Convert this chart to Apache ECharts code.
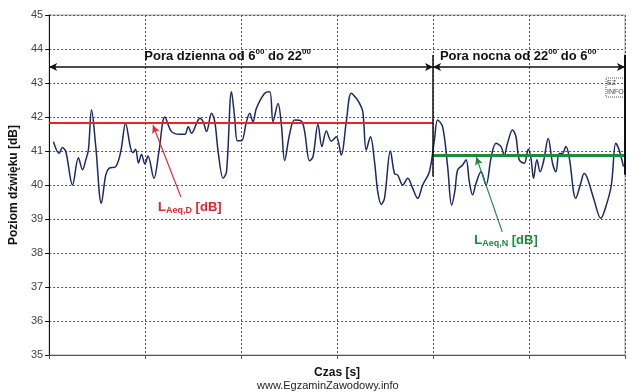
<!DOCTYPE html>
<html><head><meta charset="utf-8">
<script src="https://cdn.jsdelivr.net/npm/echarts@6/dist/echarts.min.js"></script>
<style>html,body{margin:0;padding:0;background:#fff}#c{width:637px;height:392px}</style>
</head><body><div id="c"></div>
<script>
const timeS = [4.5,10.4,13.8,17.4,24.4,30.5,34.8,38.2,40.9,44.2,48.6,54.4,59.0,62.4,69.4,74.6,79.6,84.8,87.4,90.0,93.1,96.2,99.8,103.0,109.2,114.4,120.6,127.6,136.2,141.4,144.9,148.4,153.6,157.0,160.5,164.0,169.2,172.6,176.1,181.3,184.8,190.0,193.4,196.2,200.4,205.6,209.0,212.4,216.0,224.6,229.8,233.3,238.5,242.0,245.4,250.6,255.8,262.8,266.2,271.4,274.9,280.1,284.2,288.8,294.0,299.2,304.4,309.6,314.8,320.0,323.4,326.8,330.4,334.8,339.0,342.4,346.0,349.4,355.6,359.8,363.2,368.4,373.6,378.8,384.0,389.2,396.2,401.4,404.8,410.0,415.2,419.4,422.9,425.6,430.8,434.4,437.8,441.2,444.8,450.0,455.2,460.4,465.6,470.8,474.2,477.6,482.8,486.4,489.8,495.0,499.2,502.0,504.7,508.2,511.6,515.1,520.0,524.5,528.0,531.4,534.8,538.4,541.8,548.7,553.9,557.4,560.8,567.8,574.8,580.0,585.8,590.4,593.9,598.4];
const levelDb = [41.27,40.93,41.1,40.98,40.0,40.8,40.45,40.74,41.03,42.21,41.13,39.46,40.3,40.49,40.54,40.98,41.81,41.1,40.95,41.05,40.65,40.9,40.62,40.85,40.2,40.98,42.0,41.57,41.49,41.49,41.71,41.52,41.81,41.96,41.86,41.57,42.11,41.86,40.98,40.2,40.39,42.74,41.96,41.3,41.3,41.86,42.11,41.86,42.26,42.7,42.74,41.86,42.4,41.76,40.72,41.5,41.91,41.88,41.57,40.71,40.83,41.79,41.13,41.59,41.29,41.42,40.88,41.86,42.7,42.55,42.4,42.16,41.03,41.42,40.69,39.8,39.43,39.61,41.0,40.34,40.29,40.0,40.2,39.9,39.61,40.0,40.39,41.32,41.91,41.71,40.54,39.41,39.85,40.44,40.59,40.74,40.1,39.71,40.05,40.39,40.0,40.79,41.23,41.13,40.88,41.23,41.62,41.42,40.74,40.64,41.05,40.79,40.2,40.74,40.39,40.69,41.37,40.64,40.39,40.93,40.93,41.13,40.83,39.61,40.05,40.34,40.2,39.56,39.02,39.36,40.0,41.23,41.03,40.54];
const periodBounds = [0, 400, 600];
const dayLeq = 41.83;
const nightLeq = 40.88;
const yTicks = [35, 45, 1];
const xTicks = [0, 600, 100];

const series = timeS.map((t, i) => [t, levelDb[i]]);
const F = 'Liberation Sans, Arial, sans-serif';
const chart = echarts.init(document.getElementById('c'), null, {renderer: 'canvas'});
chart.setOption({
  animation: false,
  backgroundColor: '#fff',
  grid: {left: 49, right: 12, top: 15, bottom: 37, show: true, borderColor: '#a0a0a0', borderWidth: 1},
  xAxis: {
    type: 'value', min: xTicks[0], max: xTicks[1], interval: xTicks[2],
    name: 'Czas [s]', nameLocation: 'middle', nameGap: 12,
    nameTextStyle: {fontFamily: F, fontSize: 12, fontWeight: 'bold', color: '#111'},
    axisLine: {lineStyle: {color: '#555', width: 1}},
    axisTick: {show: true, length: 4, lineStyle: {color: '#555'}},
    axisLabel: {show: false},
    splitLine: {show: true, lineStyle: {type: [2, 2], color: '#555', width: 1}}
  },
  yAxis: {
    type: 'value', min: yTicks[0], max: yTicks[1], interval: yTicks[2],
    name: 'Poziom dźwięku [dB]', nameLocation: 'middle', nameGap: 29,
    nameTextStyle: {fontFamily: F, fontSize: 12, fontWeight: 'bold', color: '#111'},
    axisLine: {show: true, lineStyle: {color: '#111', width: 1}},
    axisTick: {show: true, length: 4, lineStyle: {color: '#111'}},
    axisLabel: {fontFamily: F, fontSize: 11, color: '#444', margin: 6},
    splitLine: {show: true, lineStyle: {type: [2, 2], color: '#555', width: 1}}
  },
  series: [
    {
      type: 'line', data: series, smooth: 0.35, symbol: 'none',
      lineStyle: {color: '#1c2868', width: 1.5}, z: 3
    },
    {
      type: 'line', data: [], silent: true,
      markLine: {
        silent: true, animation: false, label: {show: false},
        data: [
          [{coord: [periodBounds[0], dayLeq], symbol: 'none'}, {coord: [periodBounds[1], dayLeq], symbol: 'none', lineStyle: {color: '#e8232a', width: 2, type: 'solid'}}],
          [{coord: [periodBounds[1], nightLeq], symbol: 'none'}, {coord: [periodBounds[2], nightLeq], symbol: 'none', lineStyle: {color: '#1d8a3e', width: 3, type: 'solid'}}],
          [{coord: [periodBounds[1], 43.82], symbol: 'none'}, {coord: [periodBounds[1], 40.25], symbol: 'none', lineStyle: {color: '#111', width: 1.5, type: 'solid'}}],
          [{coord: [periodBounds[2], 43.82], symbol: 'none'}, {coord: [periodBounds[2], 40.3], symbol: 'none', lineStyle: {color: '#111', width: 2, type: 'solid'}}],
          [{coord: [periodBounds[0], 43.47], symbol: 'arrow', symbolSize: [6, 8]}, {coord: [periodBounds[1], 43.47], symbol: 'arrow', symbolSize: [6, 8], lineStyle: {color: '#111', width: 1.5, type: 'solid'}}],
          [{coord: [periodBounds[1], 43.47], symbol: 'arrow', symbolSize: [6, 8]}, {coord: [periodBounds[2], 43.47], symbol: 'arrow', symbolSize: [6, 8], lineStyle: {color: '#111', width: 1.5, type: 'solid'}}],
          [{coord: [137.3, 39.65], symbol: 'none'}, {coord: [108.2, 41.76], symbol: 'arrow', symbolSize: [6, 8], lineStyle: {color: '#e8232a', width: 1.2, type: 'solid'}}],
          [{coord: [472.1, 38.62], symbol: 'none'}, {coord: [445.1, 40.82], symbol: 'arrow', symbolSize: [6, 8], lineStyle: {color: '#1d8a3e', width: 1.2, type: 'solid'}}]
        ]
      },
      markPoint: {
        silent: true, symbol: 'circle', symbolSize: 0,
        data: [
          {coord: [186, 43.79], label: {show: true, position: 'inside', formatter: 'Pora dzienna od 6{s|00} do 22{s|00}',
            fontFamily: F, fontSize: 13, fontWeight: 'bold', color: '#111', lineHeight: 16,
            rich: {s: {fontFamily: F, fontSize: 8, fontWeight: 'bold', color: '#111', verticalAlign: 'top', lineHeight: 16, padding: [0, 0, 6, 0]}}}},
          {coord: [488.7, 43.79], label: {show: true, position: 'inside', formatter: 'Pora nocna od 22{s|00} do 6{s|00}',
            fontFamily: F, fontSize: 13, fontWeight: 'bold', color: '#111', lineHeight: 16,
            rich: {s: {fontFamily: F, fontSize: 8, fontWeight: 'bold', color: '#111', verticalAlign: 'top', lineHeight: 16, padding: [0, 0, 6, 0]}}}},
          {coord: [146.6, 39.35], label: {show: true, position: 'inside', formatter: 'L{b|Aeq,D} [dB]',
            fontFamily: F, fontSize: 13, fontWeight: 'bold', color: '#e8232a', lineHeight: 16,
            rich: {b: {fontFamily: F, fontSize: 9, fontWeight: 'bold', color: '#e8232a', verticalAlign: 'bottom', lineHeight: 16, padding: [5, 0, 0, 0]}}}},
          {coord: [476, 38.38], label: {show: true, position: 'inside', formatter: 'L{b|Aeq,N} [dB]',
            fontFamily: F, fontSize: 13, fontWeight: 'bold', color: '#1d8a3e', lineHeight: 16,
            rich: {b: {fontFamily: F, fontSize: 9, fontWeight: 'bold', color: '#1d8a3e', verticalAlign: 'bottom', lineHeight: 16, padding: [5, 0, 0, 0]}}}}
        ]
      }
    }
  ],
  graphic: [
    {type: 'text', left: 257, top: 380, style: {text: 'www.EgzaminZawodowy.info', fontFamily: F, fontSize: 11, fill: '#222'}},
    {type: 'rect', shape: {x: 606, y: 78, width: 19, height: 19}, style: {fill: 'none', stroke: '#555', lineWidth: 1, lineDash: [1, 1]}},
    {type: 'text', left: 607, top: 79, style: {text: 'EZ\nINFO', fontFamily: F, fontSize: 7, fill: '#444', lineHeight: 9}}
  ]
});
</script></body></html>
